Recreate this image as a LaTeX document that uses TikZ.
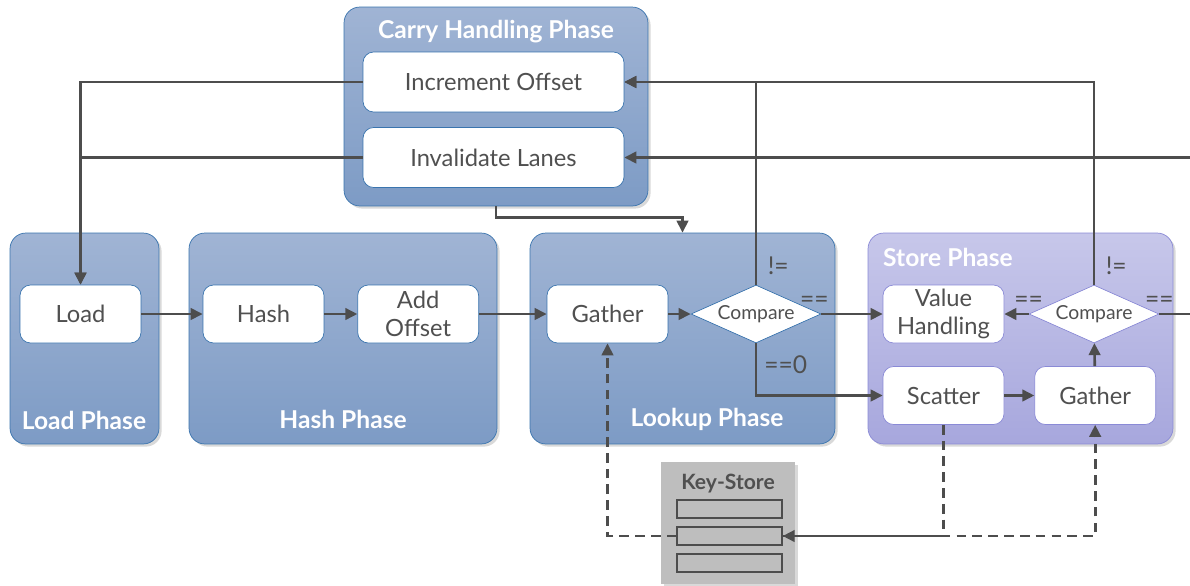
\documentclass[tikz,border=0pt]{standalone}
\usepackage{fontspec}
\setmainfont{Lato}
\usepackage{tikz}
\usetikzlibrary{shapes.geometric, arrows.meta, positioning, calc, shadows}

\definecolor{linegray}{HTML}{4D4D4D}
\definecolor{textgray}{HTML}{505050}
\definecolor{bluetop}{HTML}{A0B4D4}
\definecolor{bluebot}{HTML}{7D9BC5}
\definecolor{blueedge}{HTML}{3A74AE}
\definecolor{purpletop}{HTML}{C7C7EA}
\definecolor{purplebot}{HTML}{A7A7DD}
\definecolor{purpleedge}{HTML}{8A8AD6}
\definecolor{storegray}{HTML}{BEBEBE}

\tikzstyle{phase} = [rectangle, rounded corners=9pt, draw=blueedge, top color=bluetop, bottom color=bluebot, drop shadow={shadow xshift=1.5pt, shadow yshift=-1.5pt, opacity=0.3}]
\tikzstyle{storephase} = [phase, draw=purpleedge, top color=purpletop, bottom color=purplebot]
\tikzstyle{phasetitle} = [text=white, font=\bfseries\fontsize{14}{16}\selectfont]
\tikzstyle{stepbox} = [rectangle, rounded corners=6pt, draw=blueedge, fill=white, minimum width=2.42cm, minimum height=1.16cm, align=center, text=textgray, font=\fontsize{13.5}{16}\selectfont, inner sep=1pt]
\tikzstyle{storestep} = [stepbox, draw=purpleedge]
\tikzstyle{decision} = [diamond, aspect=2.2, minimum width=2.6cm, minimum height=1.16cm, inner sep=0pt, draw=blueedge, fill=white, text=textgray, font=\fontsize{11}{12}\selectfont]
\tikzstyle{edgelabel} = [text=textgray, font=\fontsize{14}{15}\selectfont, inner sep=1pt]
\tikzstyle{slot} = [rectangle, draw=linegray, fill=storegray, minimum width=2.1cm, minimum height=0.36cm, line width=0.8pt]
\tikzstyle{arrow} = [line width=1.5pt, draw=linegray, -{Triangle[length=2.4mm, width=2.3mm]}]
\tikzstyle{dasharrow} = [arrow, dash pattern=on 5.5pt off 3.5pt]

\begin{document}
\begin{tikzpicture}[x=0.02cm, y=-0.02cm]
\useasboundingbox (0,0) rectangle (1190,585);
\clip (0,0) rectangle (1190,585);

% phase frames
\node (carry) [phase, minimum width=6.08cm, minimum height=3.98cm] at (496,106.5) {};
\node (loadph) [phase, minimum width=2.98cm, minimum height=4.22cm] at (84.5,338.5) {};
\node (hashph) [phase, minimum width=6.16cm, minimum height=4.22cm] at (343,338.5) {};
\node (lookph) [phase, minimum width=6.1cm, minimum height=4.22cm] at (682.5,338.5) {};
\node (storeph) [storephase, minimum width=6.1cm, minimum height=4.22cm] at (1020.5,338.5) {};

\node (carrytitle) [phasetitle] at (496,32) {Carry Handling Phase};
\node (loadtitle) [phasetitle] at (84,420) {Load Phase};
\node (hashtitle) [phasetitle] at (343,419) {Hash Phase};
\node (looktitle) [phasetitle] at (707,419) {Lookup Phase};
\node (storetitle) [phasetitle, anchor=west] at (877,257) {Store Phase};

% steps
\node (incr) [stepbox, minimum width=5.22cm, minimum height=1.2cm] at (493.5,82) {Increment Offset};
\node (inval) [stepbox, minimum width=5.22cm, minimum height=1.2cm] at (493.5,157.5) {Invalidate Lanes};
\node (load) [stepbox] at (80.5,314) {Load};
\node (hash) [stepbox] at (263.5,314) {Hash};
\node (addoff) [stepbox, right=0.66cm of hash] {Add\\Offset};
\node (gather) [stepbox] at (607.5,314) {Gather};
\node (cmp) [decision] at (756,314) {\raisebox{-2pt}{Compare}};
\node (value) [storestep] at (943.5,314) {Value\\Handling};
\node (cmp2) [decision, draw=purpleedge] at (1094,314) {\raisebox{-2pt}{Compare}};
\node (scatter) [storestep] at (943.5,395.5) {Scatter};
\node (gather2) [storestep, right=0.6cm of scatter] {Gather};

% key store
\node (keystore) [rectangle, fill=storegray, minimum width=2.68cm, minimum height=2.44cm, drop shadow={shadow xshift=1.5pt, shadow yshift=-1.5pt, opacity=0.3}] at (728,523) {};
\node (kstitle) [text=textgray, font=\bfseries\fontsize{12}{14}\selectfont] at (728,484) {Key-Store};
\node (slot1) [slot] at (729.5,509) {};
\node (slot2) [slot] at (729.5,536) {};
\node (slot3) [slot] at (729.5,563) {};

% main flow
\draw [arrow] (load) -- (hash);
\draw [arrow] (hash) -- (addoff);
\draw [arrow] (addoff) -- (gather);
\draw [arrow] (gather) -- (cmp);
\draw [arrow] (cmp) -- node[edgelabel, pos=0, above=2pt, xshift=-4pt] {==} (value);
\draw [arrow] (cmp.south) |- node[edgelabel, pos=0, anchor=north west, xshift=3pt, yshift=-5pt] {==0} (scatter.west);
\draw [arrow] (scatter) -- (gather2);
\draw [arrow] (gather2) -- (cmp2);
\draw [arrow] (cmp2.west) -- node[edgelabel, pos=0, above=2pt] {==} (value.east);
\draw [arrow] (carry.south) -- ++(0,11) -| (lookph.north);

% feedback to carry handling
\draw [arrow] (cmp.north) |- node[edgelabel, pos=0, anchor=south west, xshift=5pt, yshift=4pt] {!=} (incr.east);
\draw [arrow] (cmp2.north) |- node[edgelabel, pos=0, anchor=south west, xshift=5pt, yshift=4pt] {!=} (incr.east);
\draw [arrow] (cmp2.east) -- node[edgelabel, pos=0, above=2pt] {==} ++(60,0) |- (inval.east);
\draw [arrow] (incr.west) -| (load.north);
\draw [arrow] (inval.west) -| (load.north);

% key store access
\draw [dasharrow] (scatter.south) |- (slot2.east);
\draw [dasharrow] (slot2.east) -| (gather2.south);
\draw [dasharrow] (slot2.west) -| (gather.south);
\end{tikzpicture}
\end{document}
